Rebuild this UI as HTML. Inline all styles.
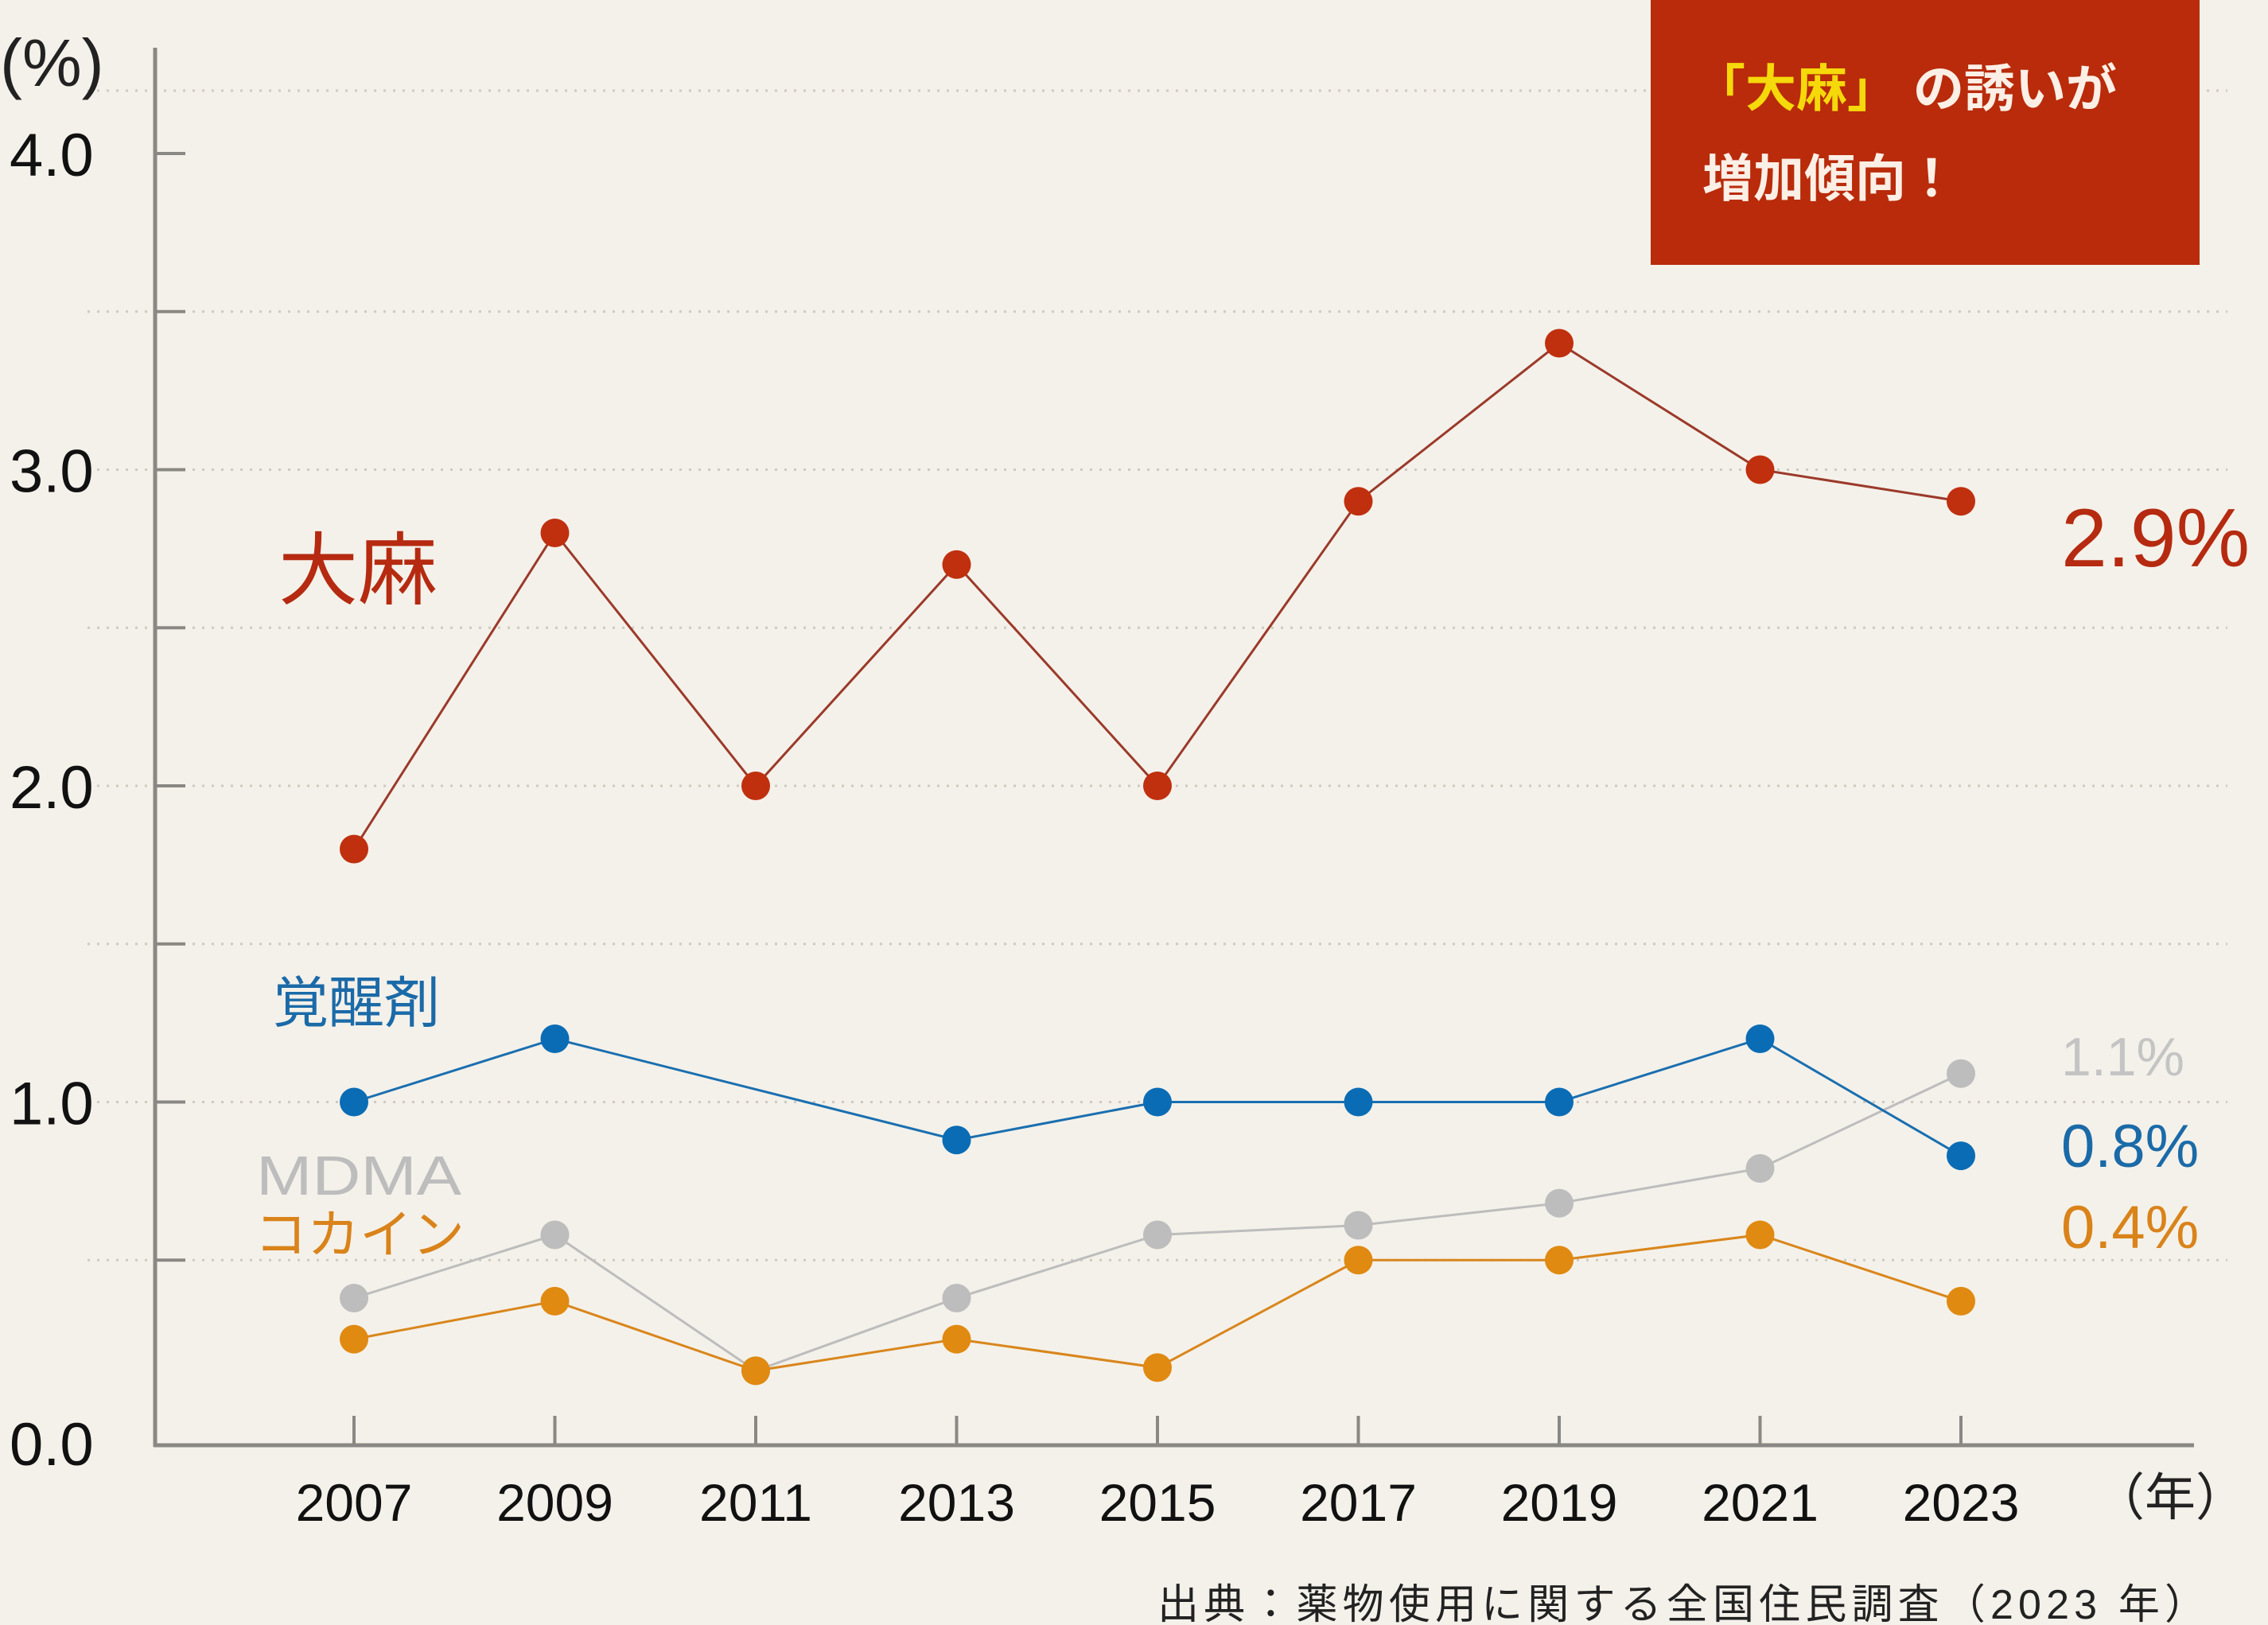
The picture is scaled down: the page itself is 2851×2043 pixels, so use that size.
<!DOCTYPE html>
<html><head><meta charset="utf-8">
<style>
html,body{margin:0;padding:0;background:#f4f1ea;}
svg{display:block;font-family:"Liberation Sans","Noto Sans CJK JP",sans-serif;}
</style></head>
<body>
<svg id="chart" width="2851" height="2043" viewBox="0 0 2851 2043" xmlns="http://www.w3.org/2000/svg">
<rect width="2851" height="2043" fill="#f4f1ea"/>
<g id="grid"></g>
<g id="axes"></g>
<g id="series"></g>
<g>
<rect x="2075" y="0" width="690" height="333" fill="#b92b0a"/>
<text x="2130" y="134" font-size="64" font-weight="bold" fill="#f5d90a">「大麻」</text>
<text x="2405" y="134" font-size="64" font-weight="bold" fill="#fbefe6">の誘いが</text>
<text x="2140" y="247" font-size="64" font-weight="bold" fill="#fbefe6">増加傾向！</text>
</g>
<text x="0" y="108" font-size="84" fill="#222">(%)</text>
<text x="2632" y="1905" font-size="64" fill="#222">（年）</text>
<text x="1455" y="2035" font-size="52" textLength="1318" lengthAdjust="spacing" fill="#222">出典：薬物使用に関する全国住民調査（2023 年）</text>
<text x="350" y="752" font-size="100" fill="#b52a10">大麻</text>
<text x="343" y="1285" font-size="70" fill="#1b6aa8">覚醒剤</text>
<text x="322" y="1502" font-size="70" textLength="258" lengthAdjust="spacingAndGlyphs" fill="#bdbdbd">MDMA</text>
<text x="320" y="1575" font-size="66" fill="#d9831a">コカイン</text>
<text x="2591" y="712" font-size="104" fill="#b52a10">2.9%</text>
<text x="2591" y="1352" font-size="68" fill="#c4c4c4">1.1%</text>
<text x="2591" y="1467" font-size="76" fill="#1b6aa8">0.8%</text>
<text x="2591" y="1569" font-size="76" fill="#d9831a">0.4%</text>
</svg>
<script>
const years = [2007,2009,2011,2013,2015,2017,2019,2021,2023];
const cannabis = [1.8,2.8,2.0,2.7,2.0,2.9,3.4,3.0,2.9];
const stimulants = [1.0,1.2,null,0.88,1.0,1.0,1.0,1.2,0.83];
const mdma = [0.38,0.58,0.15,0.38,0.58,0.61,0.68,0.79,1.09];
const cocaine = [0.25,0.37,0.15,0.25,0.16,0.5,0.5,0.58,0.37];
const yTicks = [0,0.5,1,1.5,2,2.5,3,3.5,4];
const yTickLabels = ["0.0","","1.0","","2.0","","3.0","","4.0"];

const NS="http://www.w3.org/2000/svg";
function xs(i){return 445+i*252.5;}
function ys(v){return 1783-v*397.5;}
function mk(tag,attrs,parent){const e=document.createElementNS(NS,tag);for(const k in attrs)e.setAttribute(k,attrs[k]);parent.appendChild(e);return e;}
const grid=document.getElementById('grid'),axes=document.getElementById('axes'),ser=document.getElementById('series');

[114].forEach(y=>{const l=mk('line',{x1:110,x2:2800,y1:y,y2:y,stroke:'#cfcac0','stroke-width':3,'stroke-dasharray':'3 9'},grid);

});
yTicks.forEach((t,i)=>{
  const y=ys(t);
  if(t>0&&t<4){const g=mk('line',{x1:110,x2:2800,y1:y,y2:y,stroke:'#cfcac0','stroke-width':3,'stroke-dasharray':'3 9'},grid);
  
  }
  if(t>0){const tk=mk('line',{x1:195,x2:233,y1:y,y2:y,stroke:'#8a8884','stroke-width':4},axes);
  
  }
  if(yTickLabels[i]){const tx=mk('text',{x:12,y:(t===0?1842:y+28),'font-size':76,fill:'#111'},axes);tx.textContent=yTickLabels[i];
  
  }
});
const ya=mk('line',{x1:195,x2:195,y1:60,y2:1819,stroke:'#8a8884','stroke-width':5},axes);


const xa=mk('line',{x1:193,x2:2758,y1:1817,y2:1817,stroke:'#8a8884','stroke-width':5},axes);


years.forEach((yr,i)=>{
  const tk=mk('line',{x1:xs(i),x2:xs(i),y1:1780,y2:1817,stroke:'#8a8884','stroke-width':4},axes);
  
  
  const tx=mk('text',{x:xs(i),y:1912,'font-size':66,fill:'#111','text-anchor':'middle'},axes);tx.textContent=yr;
  
  
});
function drawSeries(vals,name,lineColor,dotColor,lw){
  const pts=[];vals.forEach((v,i)=>{if(v!==null)pts.push([xs(i),ys(v)]);});
  const pl=mk('polyline',{points:pts.map(p=>p.join(',')).join(' '),fill:'none',stroke:lineColor,'stroke-width':lw},ser);
  
  
  pts.forEach(p=>{const c=mk('circle',{cx:p[0],cy:p[1],r:18,fill:dotColor},ser);
  
  });
}
drawSeries(mdma,'mdma','#bdbdbd','#bdbdbd',3);
drawSeries(cocaine,'cocaine','#d9861c','#e08a12',3);
drawSeries(stimulants,'stimulants','#1a6fb0','#0a6cb5',3);
drawSeries(cannabis,'cannabis','#9b3a2a','#c0300e',3);
</script>
</body></html>
